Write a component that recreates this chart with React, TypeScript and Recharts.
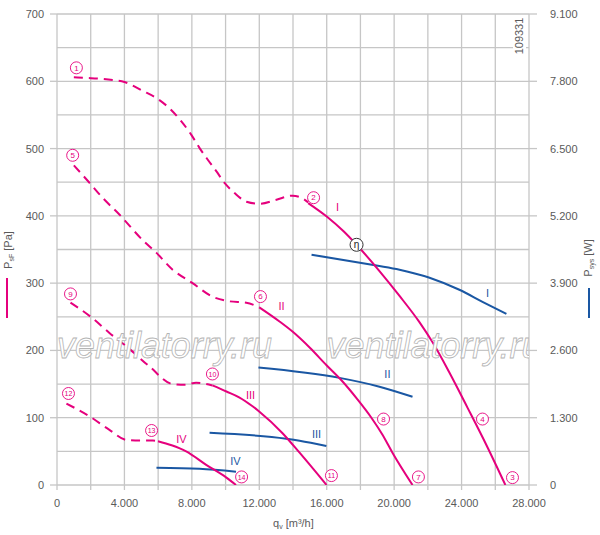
import React from 'react';
import { ComposedChart, Line, XAxis, YAxis, CartesianGrid, Scatter } from 'recharts';

const PINK = '#e5007d';
const BLUE = '#1a57a3';
const GRID = '#c6c6c6';
const TXT = '#5a5a5a';
const FONT = '"Liberation Sans", Arial, sans-serif';

// axis ticks
const xTicks = [0, 2000, 4000, 6000, 8000, 10000, 12000, 14000, 16000, 18000, 20000, 22000, 24000, 26000, 28000];
const leftTicks = [0, 50, 100, 150, 200, 250, 300, 350, 400, 450, 500, 550, 600, 650, 700];
const rightTicks = [0, 1300, 2600, 3900, 5200, 6500, 7800, 9100];

// pressure curves (q in m3/h, p in Pa)
const dash1 = [
  { q: 1000, p: 606 }, { q: 1700, p: 605 }, { q: 2520, p: 604 }, { q: 3300, p: 602 },
  { q: 4000, p: 599 }, { q: 5070, p: 586 }, { q: 5960, p: 574 }, { q: 6790, p: 557 },
  { q: 7390, p: 540 }, { q: 7980, p: 520 }, { q: 8450, p: 501 }, { q: 8870, p: 486 },
  { q: 9460, p: 466 }, { q: 9940, p: 449 }, { q: 10530, p: 434 }, { q: 11240, p: 421 },
  { q: 12010, p: 418 }, { q: 13020, p: 424 }, { q: 13970, p: 430 }, { q: 14560, p: 426 },
  { q: 14900, p: 420 },
];
const solid1 = [
  { q: 14900, p: 419 }, { q: 16000, p: 399 }, { q: 17000, p: 377 }, { q: 17770, p: 357 },
  { q: 19130, p: 318 }, { q: 20320, p: 281 }, { q: 21500, p: 242 }, { q: 22280, p: 212 },
  { q: 23300, p: 166 }, { q: 24350, p: 115 }, { q: 25500, p: 58 }, { q: 26600, p: 0 },
];
const dash2 = [
  { q: 1000, p: 475 }, { q: 1900, p: 450 }, { q: 2700, p: 427 }, { q: 3700, p: 402 },
  { q: 5080, p: 364 }, { q: 5900, p: 345 }, { q: 6860, p: 320 }, { q: 8040, p: 300 },
  { q: 9220, p: 280 }, { q: 10230, p: 273 }, { q: 11230, p: 271 }, { q: 12000, p: 264 },
];
const solid2 = [
  { q: 12000, p: 264 }, { q: 13200, p: 243 }, { q: 13970, p: 228 }, { q: 15000, p: 204 },
  { q: 15990, p: 178 }, { q: 16860, p: 156 }, { q: 17800, p: 128 }, { q: 18650, p: 100 },
  { q: 19300, p: 75 }, { q: 19900, p: 48 }, { q: 21090, p: 0 },
];
const dash3 = [
  { q: 800, p: 271 }, { q: 2050, p: 249 }, { q: 3110, p: 226 }, { q: 4120, p: 206 },
  { q: 5490, p: 176 }, { q: 6860, p: 150 }, { q: 7600, p: 149 }, { q: 8250, p: 152 },
  { q: 9220, p: 148 },
];
const solid3 = [
  { q: 9220, p: 148 }, { q: 10050, p: 139 }, { q: 10830, p: 130 }, { q: 11600, p: 117 },
  { q: 12010, p: 109 }, { q: 13380, p: 77 }, { q: 14390, p: 48 }, { q: 15990, p: 0 },
];
const dash4 = [
  { q: 560, p: 121 }, { q: 1930, p: 102 }, { q: 3110, p: 82 }, { q: 4120, p: 67 },
  { q: 4890, p: 66 }, { q: 5690, p: 66 }, { q: 5990, p: 65 },
];
const solid4 = [
  { q: 5990, p: 65 }, { q: 6800, p: 59 }, { q: 7660, p: 50 }, { q: 8850, p: 30 },
  { q: 10050, p: 11 }, { q: 10620, p: 0 },
];

// power curves (W)
const power1 = [
  { q: 15100, w: 4450 }, { q: 18950, w: 4240 }, { q: 20320, w: 4160 }, { q: 22100, w: 4005 },
  { q: 23870, w: 3772 }, { q: 25240, w: 3540 }, { q: 26660, w: 3305 },
];
const power2 = [
  { q: 11950, w: 2270 }, { q: 16760, w: 2070 }, { q: 19130, w: 1900 }, { q: 21090, w: 1705 },
];
const power3 = [
  { q: 9050, w: 1008 }, { q: 13600, w: 895 }, { q: 14390, w: 857 }, { q: 15980, w: 755 },
];
const power4 = [
  { q: 5900, w: 334 }, { q: 8450, w: 312 }, { q: 10620, w: 257 },
];

// annotations (in left-axis units)
const markers = [
  { q: 1150, p: 620, t: '1' }, { q: 15220, p: 427, t: '2' }, { q: 27020, p: 11, t: '3' },
  { q: 25240, p: 98, t: '4' }, { q: 930, p: 490, t: '5' }, { q: 12070, p: 280, t: '6' },
  { q: 21440, p: 12, t: '7' }, { q: 19370, p: 98, t: '8' }, { q: 800, p: 284, t: '9' },
  { q: 9220, p: 165, t: '10' }, { q: 16280, p: 14, t: '11' }, { q: 680, p: 136, t: '12' },
  { q: 5610, p: 81, t: '13' }, { q: 10950, p: 12, t: '14' },
];
const etaMarker = [{ q: 17770, p: 357, t: 'η' }];
const pinkRoman = [
  { q: 16640, p: 413, t: 'I' }, { q: 13320, p: 266, t: 'II' },
  { q: 11480, p: 134, t: 'III' }, { q: 7380, p: 69, t: 'IV' },
];
const blueRoman = [
  { q: 25540, p: 286, t: 'I' }, { q: 19600, p: 165, t: 'II' },
  { q: 15400, p: 76, t: 'III' }, { q: 10590, p: 35, t: 'IV' },
];
const watermarks = [{ q: 0, p: 189, t: 'ventilatorry.ru' }, { q: 15990, p: 189, t: 'ventilatorry.ru' }];

const fmt = (v: number) => {
  if (v < 1000) return String(v);
  const th = Math.floor(v / 1000);
  const rest = String(v % 1000).padStart(3, '0');
  return th + '.' + rest;
};

const XTick = (props: any) => {
  const { x, y, payload } = props;
  const v = payload.value;
  return (
    <g>
      <line x1={x} x2={x} y1={y} y2={y + 5} stroke={GRID} strokeWidth={1.3} />
      {v % 4000 === 0 && (
        <text x={x} y={y + 22} textAnchor="middle" fill={TXT} fontSize={11} fontFamily={FONT}>
          {fmt(v)}
        </text>
      )}
    </g>
  );
};

const LeftTick = (props: any) => {
  const { x, y, payload } = props;
  const v = payload.value;
  if (v % 100 !== 0) return <g />;
  return (
    <g>
      <line x1={x - 7} x2={x} y1={y} y2={y} stroke={GRID} strokeWidth={1.3} />
      <text x={x - 13} y={y + 4} textAnchor="end" fill={TXT} fontSize={11} fontFamily={FONT}>
        {fmt(v)}
      </text>
    </g>
  );
};

const RightTick = (props: any) => {
  const { x, y, payload } = props;
  const v = payload.value;
  return (
    <g>
      <line x1={x} x2={x + 8} y1={y} y2={y} stroke={GRID} strokeWidth={1.3} />
      <text x={x + 21} y={y + 4} textAnchor="start" fill={TXT} fontSize={11} fontFamily={FONT}>
        {fmt(v)}
      </text>
    </g>
  );
};

const MarkerShape = (props: any) => {
  const { cx, cy, payload } = props;
  return (
    <g>
      <circle cx={cx} cy={cy} r={6} fill="#fff" stroke={PINK} strokeWidth={0.9} />
      <text x={cx} y={cy + 2.8} textAnchor="middle" fill={PINK} fontSize={payload.t.length > 1 ? 7 : 8} fontFamily={FONT}>
        {payload.t}
      </text>
    </g>
  );
};

const EtaShape = (props: any) => {
  const { cx, cy, payload } = props;
  return (
    <g>
      <circle cx={cx} cy={cy} r={6.5} fill="#fff" stroke="#333" strokeWidth={1} />
      <text x={cx} y={cy + 3} textAnchor="middle" fill="#222" fontSize={10} fontFamily={FONT}>
        {payload.t}
      </text>
    </g>
  );
};

const makeRoman = (color: string) => (props: any) => {
  const { cx, cy, payload } = props;
  return (
    <text x={cx} y={cy + 4} textAnchor="middle" fill={color} fontSize={11} fontFamily={FONT}>
      {payload.t}
    </text>
  );
};
const PinkRoman = makeRoman(PINK);
const BlueRoman = makeRoman(BLUE);

const WatermarkShape = (props: any) => {
  const { cx, cy, payload } = props;
  return (
    <text
      x={cx}
      y={cy}
      fill="#fff"
      stroke="#b4b4b4"
      strokeWidth={0.8}
      fontSize={36}
      fontStyle="italic"
      fontFamily={FONT}
      textLength={215}
      lengthAdjust="spacingAndGlyphs"
    >
      {payload.t}
    </text>
  );
};

const lineCommon = { type: 'monotone' as const, strokeWidth: 2, dot: false, activeDot: false, isAnimationActive: false };

export default function App() {
  return (
    <div style={{ position: 'absolute', left: 0, top: 0, width: 600, height: 535, background: '#fff' }}>
      <style>{`body{margin:0;}`}</style>
      <ComposedChart width={600} height={535} margin={{ top: 14, right: 11, bottom: 20, left: 7 }}>
        <CartesianGrid yAxisId="left" stroke={GRID} strokeWidth={1.3} />
        <XAxis
          dataKey="q"
          type="number"
          domain={[0, 28000]}
          ticks={xTicks}
          interval={0}
          height={30}
          tickSize={0}
          tickMargin={0}
          axisLine={false}
          tickLine={false}
          tick={XTick}
          allowDataOverflow
        />
        <YAxis
          yAxisId="left"
          type="number"
          domain={[0, 700]}
          ticks={leftTicks}
          interval={0}
          width={50}
          tickSize={0}
          tickMargin={0}
          axisLine={false}
          tickLine={false}
          tick={LeftTick}
          allowDataOverflow
        />
        <YAxis
          yAxisId="right"
          orientation="right"
          type="number"
          domain={[0, 9100]}
          ticks={rightTicks}
          interval={0}
          width={60}
          tickSize={0}
          tickMargin={0}
          axisLine={false}
          tickLine={false}
          tick={RightTick}
          allowDataOverflow
        />
        <Scatter yAxisId="left" data={watermarks} dataKey="p" shape={WatermarkShape} isAnimationActive={false} />

        <Line yAxisId="right" data={power1} dataKey="w" stroke={BLUE} {...lineCommon} />
        <Line yAxisId="right" data={power2} dataKey="w" stroke={BLUE} {...lineCommon} />
        <Line yAxisId="right" data={power3} dataKey="w" stroke={BLUE} {...lineCommon} />
        <Line yAxisId="right" data={power4} dataKey="w" stroke={BLUE} {...lineCommon} />

        <Line yAxisId="left" data={dash1} dataKey="p" stroke={PINK} strokeDasharray="9 6" {...lineCommon} />
        <Line yAxisId="left" data={solid1} dataKey="p" stroke={PINK} {...lineCommon} />
        <Line yAxisId="left" data={dash2} dataKey="p" stroke={PINK} strokeDasharray="9 6" {...lineCommon} />
        <Line yAxisId="left" data={solid2} dataKey="p" stroke={PINK} {...lineCommon} />
        <Line yAxisId="left" data={dash3} dataKey="p" stroke={PINK} strokeDasharray="9 6" {...lineCommon} />
        <Line yAxisId="left" data={solid3} dataKey="p" stroke={PINK} {...lineCommon} />
        <Line yAxisId="left" data={dash4} dataKey="p" stroke={PINK} strokeDasharray="9 6" {...lineCommon} />
        <Line yAxisId="left" data={solid4} dataKey="p" stroke={PINK} {...lineCommon} />

        <Scatter yAxisId="left" data={markers} dataKey="p" shape={MarkerShape} isAnimationActive={false} />
        <Scatter yAxisId="left" data={etaMarker} dataKey="p" shape={EtaShape} isAnimationActive={false} />
        <Scatter yAxisId="left" data={pinkRoman} dataKey="p" shape={PinkRoman} isAnimationActive={false} />
        <Scatter yAxisId="left" data={blueRoman} dataKey="p" shape={BlueRoman} isAnimationActive={false} />
      </ComposedChart>
      <svg width={600} height={535} style={{ position: 'absolute', left: 0, top: 0, pointerEvents: 'none' }}>
        <rect x={513} y={17} width={13} height={37} fill="#fff" />
        <text transform="translate(523,36) rotate(-90)" textAnchor="middle" fill={TXT} fontSize={11} fontFamily={FONT}>
          109331
        </text>
        <text transform="translate(12,250) rotate(-90)" textAnchor="middle" fill={TXT} fontSize={11} fontFamily={FONT}>
          P<tspan fontSize={7} dy={2}>sF</tspan><tspan dy={-2}> [Pa]</tspan>
        </text>
        <line x1={7} x2={7} y1={278} y2={318} stroke={PINK} strokeWidth={2} />
        <text transform="translate(592,258) rotate(-90)" textAnchor="middle" fill={TXT} fontSize={11} fontFamily={FONT}>
          P<tspan fontSize={7} dy={2}>sys</tspan><tspan dy={-2}> [W]</tspan>
        </text>
        <line x1={589} x2={589} y1={288} y2={318} stroke={BLUE} strokeWidth={2} />
        <text x={273} y={527} fill={TXT} fontSize={11} fontFamily={FONT}>
          q<tspan fontSize={7} dy={2}>v</tspan><tspan dy={-2}> [m³/h]</tspan>
        </text>
      </svg>
    </div>
  );
}
